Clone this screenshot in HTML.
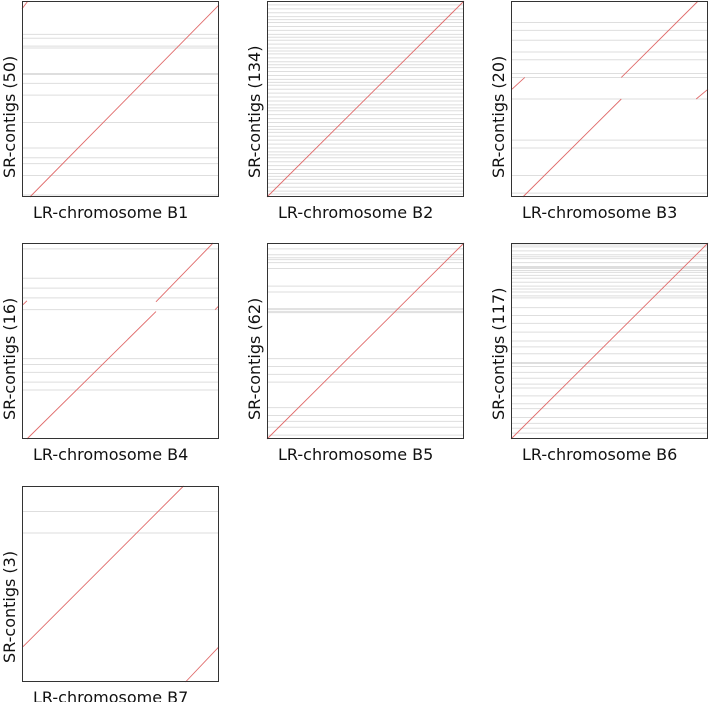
<!DOCTYPE html>
<html><head><meta charset="utf-8"><style>
html,body{margin:0;padding:0;background:#fff;}
svg{display:block;font-family:"DejaVu Sans","Liberation Sans",sans-serif;}
</style></head><body>
<svg id="chart" width="709" height="702" viewBox="0 0 709 702" xmlns="http://www.w3.org/2000/svg"></svg>
<script>
// Panel titles and contig counts
const chromosomes = ["B1","B2","B3","B4","B5","B6","B7"];
const contigCounts = [50,134,20,16,62,117,3];
// Alignment segments per panel: [x0,y0,x1,y1] as fraction of chromosome / contig coordinate
const segB1 = [[0.04,0,1,0.98],[0,0.96,0.03,1]];
const segB2 = [[0,0,1,1]];
const segB3 = [[0.06,0,0.56,0.50],[0.56,0.61,0.95,1],[0.005,0.55,0.07,0.61],[0.94,0.50,1,0.55]];
const segB4 = [[0.025,0,0.68,0.65],[0.68,0.70,0.97,1],[0.005,0.685,0.025,0.705],[0.98,0.66,1,0.68]];
const segB5 = [[0,0,1,1]];
const segB6 = [[0,0,1,1]];
const segB7 = [[0.005,0.18,0.82,1],[0.83,0,1,0.18]];
// Contig boundary positions (fraction of SR contig coordinate)
const gapB1 = [0.83,0.81,0.77,0.76,0.63,0.625,0.58,0.52,0.38,0.25,0.20,0.17,0.11,0.01];
const gapB2 = [0.98,0.96,0.94,0.92,0.905,0.89,0.87,0.85,0.83,0.815,0.80,0.78,0.76,0.745,0.73,0.71,0.69,0.675,0.66,0.64,0.62,0.60,0.585,0.57,0.55,0.53,0.51,0.49,0.47,0.455,0.44,0.42,0.40,0.38,0.36,0.345,0.33,0.31,0.29,0.27,0.25,0.23,0.215,0.20,0.18,0.16,0.14,0.12,0.105,0.09,0.07,0.05,0.03,0.015];
const gapB3 = [0.89,0.85,0.80,0.74,0.70,0.63,0.61,0.50,0.29,0.25,0.11,0.02];
const gapB4 = [0.97,0.82,0.77,0.72,0.66,0.41,0.38,0.34,0.29,0.25];
const gapB5 = [0.97,0.94,0.925,0.915,0.90,0.87,0.78,0.75,0.665,0.66,0.65,0.645,0.41,0.37,0.33,0.29,0.16,0.12,0.09,0.06,0.02];
const gapB6 = [0.99,0.98,0.96,0.94,0.93,0.92,0.90,0.88,0.875,0.87,0.86,0.85,0.835,0.82,0.80,0.78,0.765,0.75,0.73,0.72,0.67,0.63,0.59,0.545,0.50,0.47,0.435,0.39,0.385,0.37,0.34,0.31,0.28,0.26,0.22,0.18,0.155,0.11,0.08,0.055,0.03];
const gapB7 = [0.87,0.76];

const segs = [segB1,segB2,segB3,segB4,segB5,segB6,segB7];
const gaps = [gapB1,gapB2,gapB3,gapB4,gapB5,gapB6,gapB7];
const lefts = [22,267,511];
const bottoms = [197,439,682];
const W = 197, H = 196;
const NS = "http://www.w3.org/2000/svg";
const svg = document.getElementById("chart");
function mk(t, a, p){ const e=document.createElementNS(NS,t); for(const k in a) e.setAttribute(k,a[k]); p.appendChild(e); return e; }

chromosomes.forEach((c,i)=>{
  const L = lefts[i%3], B = bottoms[Math.floor(i/3)], T = B - H;
  const sx = v => L + v*W;
  const sy = v => B - v*H;
  const g = mk("g",{},svg);
  
  
  mk("rect",{x:L,y:T,width:W,height:H,fill:"#fff"},g);
  gaps[i].forEach(v=>{
    const ln = mk("line",{x1:L,x2:L+W,y1:sy(v),y2:sy(v),stroke:"#dedede","stroke-width":1},g);
    
    
  });
  segs[i].forEach(s=>{
    const ln = mk("line",{x1:sx(s[0]),y1:sy(s[1]),x2:sx(s[2]),y2:sy(s[3]),stroke:"#e06a6a","stroke-width":0.9},g);
    
    
  });
  const fr = mk("rect",{x:L+0.5,y:T+0.5,width:W-1,height:H-1,fill:"none",stroke:"#333","stroke-width":1},g);
  
  
  const xl = mk("text",{x:L+11,y:B+21,"font-size":16,fill:"#111"},g);
  xl.textContent = "LR-chromosome "+c;
  
  
  const yx = L-7, yy = B-19;
  const yl = mk("text",{x:yx,y:yy,"font-size":16,fill:"#111",transform:"rotate(-90 "+yx+" "+yy+")"},g);
  yl.textContent = "SR-contigs ("+contigCounts[i]+")";
  
  
});
</script>
</body></html>
